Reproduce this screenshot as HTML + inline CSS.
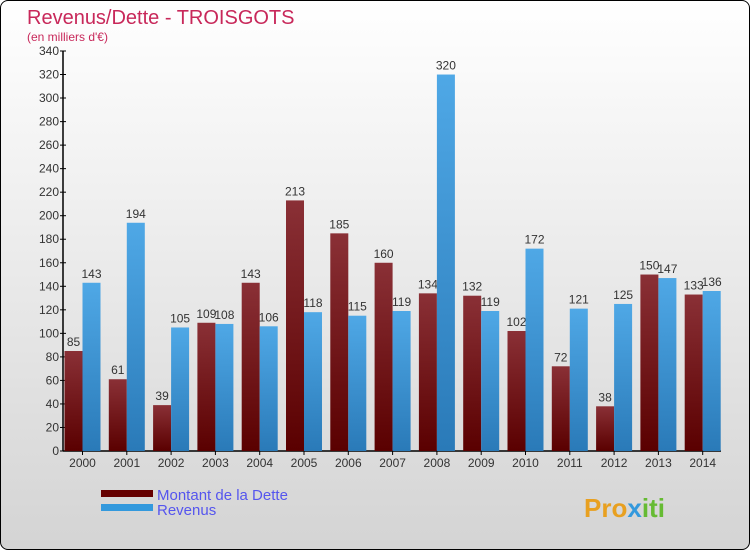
<!DOCTYPE html>
<html><head><meta charset="utf-8"><style>
body{margin:0;width:750px;height:550px;overflow:hidden;font-family:"Liberation Sans",sans-serif}
#wrap{position:absolute;left:0;top:0;width:748px;height:548px;border:1px solid #000;border-radius:8px;background:linear-gradient(#ffffff,#d4d4d4);overflow:hidden}
</style></head><body>
<div id="wrap">
<svg width="750" height="550" id="svg">
<defs>
<linearGradient id="gd" x1="0" y1="0" x2="0" y2="1"><stop offset="0" stop-color="#8a3036"/><stop offset="1" stop-color="#5a0000"/></linearGradient>
<linearGradient id="gr" x1="0" y1="0" x2="0" y2="1"><stop offset="0" stop-color="#4fa8e6"/><stop offset="1" stop-color="#2a7ab8"/></linearGradient>
</defs>
<text x="26" y="23" font-size="20" fill="#c8285a">Revenus/Dette - TROISGOTS</text>
<text x="26" y="40" font-size="12" fill="#c8285a">(en milliers d'€)</text>
<g id="axes"></g><g id="bars"></g>
<rect x="100" y="489" width="52" height="7" fill="#660000"/>
<rect x="100" y="503" width="52" height="7" fill="#3399dd"/>
<text x="156" y="499" font-size="15" fill="#5555ee">Montant de la Dette</text>
<text x="156" y="514" font-size="15" fill="#5555ee">Revenus</text>
<text x="583" y="516" font-size="26" font-weight="bold" fill="#e8a020">Pro<tspan fill="#3399dd">x</tspan><tspan fill="#66bb33">iti</tspan></text>
</svg></div>
<script>
const years=["2000","2001","2002","2003","2004","2005","2006","2007","2008","2009","2010","2011","2012","2013","2014"];
const dette=[85,61,39,109,143,213,185,160,134,132,102,72,38,150,133];
const revenus=[143,194,105,108,106,118,115,119,320,119,172,121,125,147,136];
const yTicks=[0,20,40,60,80,100,120,140,160,180,200,220,240,260,280,300,320,340];
const NS="http://www.w3.org/2000/svg";
const y0=450,ppu=400/340,x0=62,gw=44.3;
const Y=v=>y0-v*ppu;
const CX=i=>x0+19.5+gw*i;
function mk(t,a,p){const e=document.createElementNS(NS,t);for(const k in a)e.setAttribute(k,a[k]);p.appendChild(e);return e;}
const ax=document.getElementById('axes'),bg=document.getElementById('bars');
const yl=mk('line',{x1:x0,y1:Y(340),x2:x0,y2:y0,stroke:'#000','stroke-width':1.5},ax);


const xl=mk('line',{x1:x0,y1:y0,x2:720,y2:y0,stroke:'#000','stroke-width':1.5},ax);


yTicks.forEach(v=>{
 mk('line',{x1:x0-3,y1:Y(v),x2:x0+3,y2:Y(v),stroke:'#000'},ax);
 const t=mk('text',{x:x0-4,y:Y(v)+4,'font-size':12,fill:'#333','text-anchor':'end'},ax);t.textContent=v;
 
 
});
years.forEach((yr,i)=>{
 const cx=CX(i);
 mk('line',{x1:cx,y1:y0,x2:cx,y2:y0+4,stroke:'#000'},ax);
 const t=mk('text',{x:cx,y:y0+16,'font-size':12,fill:'#333','text-anchor':'middle'},ax);t.textContent=yr;
 
 
 [[dette[i],'url(#gd)',cx-18,'dette'],[revenus[i],'url(#gr)',cx,'revenus']].forEach(([v,f,bx,n])=>{
  const r=mk('rect',{x:bx,y:Y(v),width:18,height:v*ppu,fill:f},bg);
  
  
  const l=mk('text',{x:bx+9,y:Y(v)-5,'font-size':12,fill:'#333','text-anchor':'middle'},bg);l.textContent=v;
  
  
 });
});
</script>
</body></html>
